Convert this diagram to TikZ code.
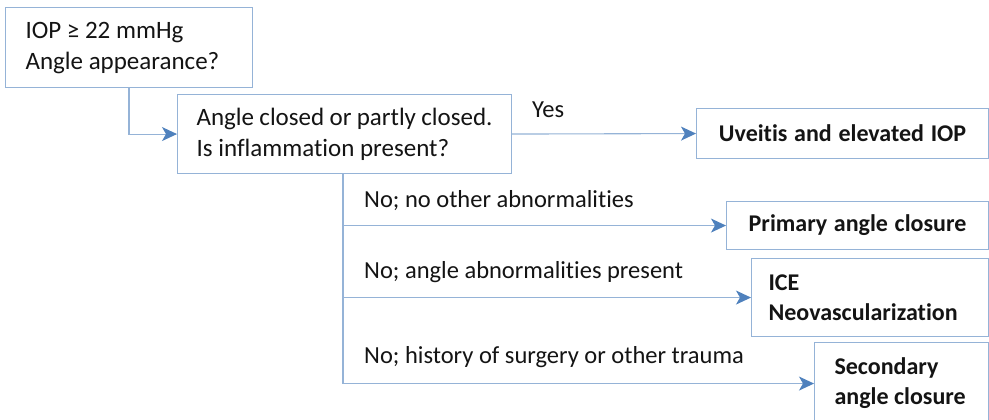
\documentclass[tikz,border=0pt]{standalone}
\usepackage{fontspec}
\setmainfont{Carlito}[Ligatures=NoCommon]
\usetikzlibrary{arrows.meta}
\definecolor{boxc}{RGB}{149,179,215}
\definecolor{arrc}{RGB}{79,129,189}
\definecolor{txt}{RGB}{20,20,20}
\newcommand\natsp{\spaceskip=0pt\xspaceskip=0pt\relax}
\begin{document}
\begin{tikzpicture}[x=1pt,y=-1pt,
  box/.style={draw=boxc, line width=1.1pt, anchor=north west, inner ysep=0pt, text=txt, font=\fontsize{25}{31}\selectfont},
  bbox/.style={box, font=\fontsize{24}{30}\selectfont\bfseries},
  conn/.style={draw=boxc, line width=1.1pt, -{Stealth[length=15pt,width=14pt,inset=4pt,color=arrc]}},
  lbl/.style={font=\fontsize{24.5}{28}\selectfont, text=txt, anchor=west, inner sep=0pt}]
\clip (0,0) rectangle (989,420);
\fill[white] (0,0) rectangle (989,420);
\node[box, minimum width=247pt, minimum height=80pt, inner xsep=20pt, text width=207pt, align=left] (b1) at (5,7) {\natsp IOP ≥ 22 mmHg\\Angle appearance?};
\node[box, minimum width=334pt, minimum height=79pt, inner xsep=19pt, text width=296pt, align=left] (b2) at (177,94) {\natsp Angle closed or partly closed.\\Is inflammation present?};
\node[bbox, minimum width=292pt, minimum height=50pt, inner xsep=0pt, text width=292pt, align=center] (b3) at (696,108) {\natsp Uveitis and elevated IOP};
\node[bbox, minimum width=262pt, minimum height=48pt, inner xsep=0pt, text width=262pt, align=center] (b4) at (726,201) {\natsp Primary angle closure};
\node[bbox, minimum width=237pt, minimum height=78pt, inner xsep=17pt, text width=203pt, align=left] (b5) at (751,258) {\natsp ICE\\Neovascularization};
\node[bbox, minimum width=174pt, minimum height=82pt, inner xsep=20pt, text width=134pt, align=left] (b6) at (814,342) {\natsp Secondary\\angle closure};
\coordinate (t) at ([xshift=166pt]b2.south west);
\draw[conn] ([xshift=124pt]b1.south west) |- (b2.west);
\draw[conn] (b2.east) -- (b3.west);
\draw[conn] (t) |- (b6.west);
\draw[conn] (t |- b4.west) -- (b4.west);
\draw[conn] (t |- b5.west) -- (b5.west);
\node[lbl] (ly) at (532,110) {Yes};
\node[lbl] (l1) at (364,201) {No; no other abnormalities};
\node[lbl] (l2) at (364,272) {No; angle abnormalities present};
\node[lbl] (l3) at (364,357) {No; history of surgery or other trauma};
\end{tikzpicture}
\end{document}
